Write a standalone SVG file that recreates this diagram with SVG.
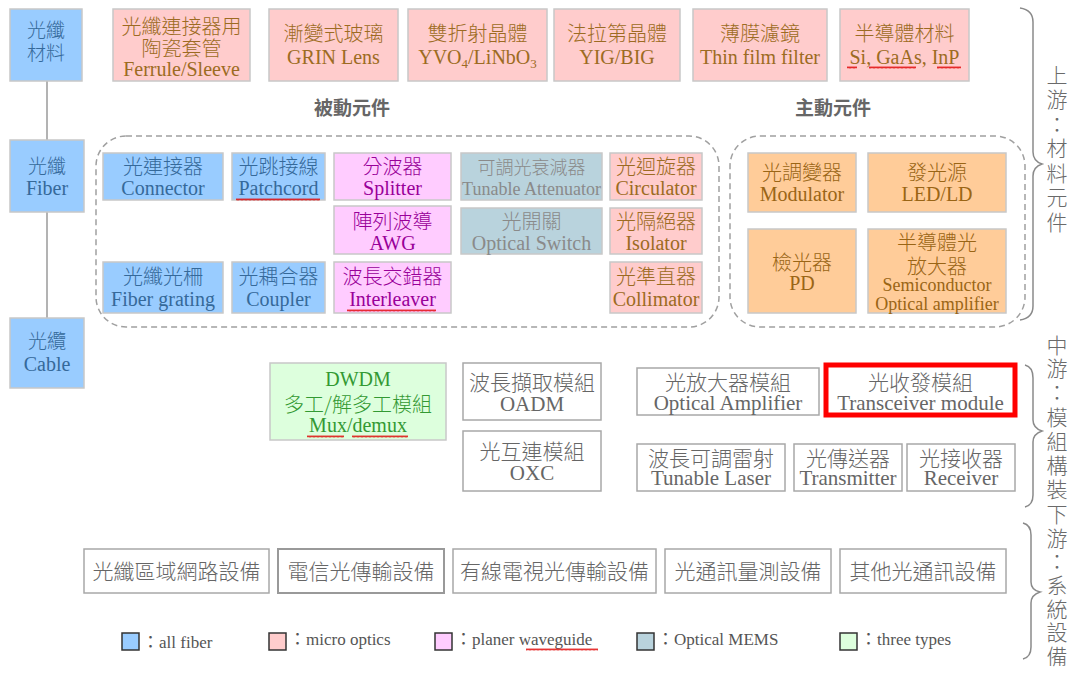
<svg xmlns="http://www.w3.org/2000/svg" width="1075" height="675" viewBox="0 0 1075 675">
<defs>
<pattern id="wv" width="4" height="3" patternUnits="userSpaceOnUse"><path d="M0,2.5 L1,0.5 L2,2.5 L3,0.5 L4,2.5" fill="none" stroke="#e00000" stroke-width="0.8"/></pattern>
</defs>
<style>
text{font-family:"Liberation Serif","Noto Sans CJK TC",serif;font-size:20px;text-anchor:middle}
.n rect{stroke:#c8c8c8;stroke-width:1.5}
.blue rect{fill:#99ccff}.blue text{fill:#35699a}
.pink rect{fill:#ffcccc}.pink text{fill:#9c6b22}
.vio rect{fill:#ffccff}.vio text{fill:#990099}
.mems rect{fill:#b9d3dd}.mems text{fill:#8a8a8a}
.orn rect{fill:#ffcc99}.orn text{fill:#9a6515}
.grn rect{fill:#ddffdd}.grn text{fill:#339933}
.wht rect{fill:#ffffff;stroke:#a8a8a8}.wht text{fill:#666666;font-size:21px}
.zh{font-family:"Noto Sans CJK TC",sans-serif;font-weight:300}
.sec{font-family:"Noto Sans CJK TC",sans-serif;font-weight:bold;font-size:19px;fill:#666666}
.side{font-family:"Noto Sans CJK TC",sans-serif;font-size:21px;fill:#6a6a6a;font-weight:300}
.dash{fill:none;stroke:#a0a0a0;stroke-width:1.5;stroke-dasharray:6 4}
.brace{fill:none;stroke:#8a8a8a;stroke-width:1.5}
.lg rect{stroke:#333333;stroke-width:1.5}
.lg text{fill:#555555;font-size:17px;text-anchor:start}
g rect.sq{fill:url(#wv);stroke:none}
</style>
<rect width="1075" height="675" fill="#ffffff"/>

<g id="connectors">
<line x1="47" y1="81" x2="47" y2="140" stroke="#9a9a9a" stroke-width="1.5"/>
<line x1="47" y1="212" x2="47" y2="318" stroke="#9a9a9a" stroke-width="1.5"/>
</g>

<g id="regions">
<rect class="dash" x="96" y="136" width="623" height="191" rx="30"/>
<rect class="dash" x="730" y="136" width="295" height="191" rx="30"/>
<text class="sec" x="352" y="115">被動元件</text>
<text class="sec" x="833" y="115">主動元件</text>
</g>

<g id="braces">
<path class="brace" d="M1020,8 Q1033,10 1033,22 L1033,152 Q1033,161 1042,164 Q1033,167 1033,176 L1033,306 Q1033,318 1020,320"/>
<path class="brace" d="M1025,365 Q1033,367 1033,378 L1033,420 Q1033,428 1042,431 Q1033,434 1033,442 L1033,495 Q1033,505 1025,507"/>
<path class="brace" d="M1023,523 Q1031,525 1031,535 L1031,582 Q1031,590 1040,592 Q1031,595 1031,603 L1031,647 Q1031,657 1023,659"/>
<text class="side"><tspan x="1057" y="83">上</tspan><tspan x="1057" y="107">游</tspan><tspan x="1057" y="132">：</tspan><tspan x="1057" y="156">材</tspan><tspan x="1057" y="181">料</tspan><tspan x="1057" y="205">元</tspan><tspan x="1057" y="230">件</tspan></text>
<text class="side"><tspan x="1057" y="353">中</tspan><tspan x="1057" y="376">游</tspan><tspan x="1057" y="400">：</tspan><tspan x="1057" y="425">模</tspan><tspan x="1057" y="449">組</tspan><tspan x="1057" y="473">構</tspan><tspan x="1057" y="497">裝</tspan></text>
<text class="side"><tspan x="1057" y="522">下</tspan><tspan x="1057" y="546">游</tspan><tspan x="1057" y="569">：</tspan><tspan x="1057" y="593">系</tspan><tspan x="1057" y="617">統</tspan><tspan x="1057" y="640">設</tspan><tspan x="1057" y="664">備</tspan></text>
</g>

<!-- left column -->
<g id="fiber-material" class="n blue"><rect x="10" y="9" width="72" height="72"/><text class="zh" x="46" y="37" style="font-size:19px">光纖</text><text class="zh" x="46" y="60" style="font-size:19px">材料</text></g>
<g id="fiber" class="n blue"><rect x="10" y="140" width="74" height="72"/><text class="zh" x="47" y="173" style="font-size:19px">光纖</text><text x="47" y="195">Fiber</text></g>
<g id="cable" class="n blue"><rect x="10" y="318" width="74" height="70"/><text class="zh" x="47" y="348" style="font-size:19px">光纜</text><text x="47" y="371">Cable</text></g>

<!-- top row materials -->
<g id="ferrule" class="n pink"><rect x="113" y="9" width="137" height="72"/><text class="zh" x="181.5" y="34">光纖連接器用</text><text class="zh" x="181.5" y="56">陶瓷套管</text><text x="181.5" y="76">Ferrule/Sleeve</text></g>
<g id="grin" class="n pink"><rect x="269" y="9" width="129" height="72"/><text class="zh" x="333.5" y="41">漸變式玻璃</text><text x="333.5" y="64">GRIN Lens</text></g>
<g id="birefringent" class="n pink"><rect x="408" y="9" width="139" height="72"/><text class="zh" x="477.5" y="41">雙折射晶體</text><text x="477.5" y="64">YVO<tspan dy="4" style="font-size:13px">4</tspan><tspan dy="-4">/LiNbO</tspan><tspan dy="4" style="font-size:13px">3</tspan></text></g>
<g id="faraday" class="n pink"><rect x="554" y="9" width="126" height="72"/><text class="zh" x="617" y="41">法拉第晶體</text><text x="617" y="64">YIG/BIG</text></g>
<g id="thinfilm" class="n pink"><rect x="693" y="9" width="134" height="72"/><text class="zh" x="760" y="41">薄膜濾鏡</text><text x="760" y="64">Thin film filter</text></g>
<g id="semimat" class="n pink"><rect x="840" y="9" width="129" height="72"/><text class="zh" x="904.5" y="41">半導體材料</text><text x="904.5" y="64">Si, GaAs, InP</text><rect class="sq" x="847" y="66" width="10" height="3"/><rect class="sq" x="869" y="66" width="47" height="3"/><rect class="sq" x="937" y="66" width="24" height="3"/></g>

<!-- passive -->
<g id="connector" class="n blue"><rect x="103" y="153" width="120" height="47"/><text class="zh" x="163" y="174">光連接器</text><text x="163" y="195">Connector</text></g>
<g id="patchcord" class="n blue"><rect x="232" y="153" width="93" height="47"/><text class="zh" x="278.5" y="174">光跳接線</text><text x="278.5" y="195">Patchcord</text><rect class="sq" x="236" y="198" width="84" height="3"/></g>
<g id="splitter" class="n vio"><rect x="334" y="153" width="117" height="47"/><text class="zh" x="392.5" y="174">分波器</text><text x="392.5" y="195">Splitter</text></g>
<g id="attenuator" class="n mems"><rect x="461" y="153" width="141" height="47"/><text class="zh" x="531.5" y="174" style="font-size:18px">可調光衰減器</text><text x="531.5" y="195" style="font-size:18px">Tunable Attenuator</text></g>
<g id="circulator" class="n pink"><rect x="610" y="153" width="92" height="47"/><text class="zh" x="656" y="174">光迴旋器</text><text x="656" y="195">Circulator</text></g>
<g id="awg" class="n vio"><rect x="334" y="206" width="117" height="48"/><text class="zh" x="392.5" y="229">陣列波導</text><text x="392.5" y="250">AWG</text></g>
<g id="switch" class="n mems"><rect x="461" y="208" width="141" height="46"/><text class="zh" x="531.5" y="229">光開關</text><text x="531.5" y="250">Optical Switch</text></g>
<g id="isolator" class="n pink"><rect x="610" y="208" width="92" height="46"/><text class="zh" x="656" y="229">光隔絕器</text><text x="656" y="250">Isolator</text></g>
<g id="grating" class="n blue"><rect x="103" y="262" width="120" height="51"/><text class="zh" x="163" y="284">光纖光柵</text><text x="163" y="306">Fiber grating</text></g>
<g id="coupler" class="n blue"><rect x="232" y="262" width="93" height="51"/><text class="zh" x="278.5" y="284">光耦合器</text><text x="278.5" y="306">Coupler</text></g>
<g id="interleaver" class="n vio"><rect x="334" y="262" width="117" height="51"/><text class="zh" x="392.5" y="284">波長交錯器</text><text x="392.5" y="306">Interleaver</text><rect class="sq" x="347" y="309" width="89" height="3"/></g>
<g id="collimator" class="n pink"><rect x="610" y="262" width="92" height="51"/><text class="zh" x="656" y="284">光準直器</text><text x="656" y="306">Collimator</text></g>

<!-- active -->
<g id="modulator" class="n orn"><rect x="748" y="153" width="108" height="59"/><text class="zh" x="802" y="180">光調變器</text><text x="802" y="201">Modulator</text></g>
<g id="ledld" class="n orn"><rect x="868" y="153" width="138" height="59"/><text class="zh" x="937" y="180">發光源</text><text x="937" y="201">LED/LD</text></g>
<g id="pd" class="n orn"><rect x="748" y="229" width="108" height="84"/><text class="zh" x="802" y="270">檢光器</text><text x="802" y="290">PD</text></g>
<g id="soa" class="n orn"><rect x="868" y="229" width="138" height="84"/><text class="zh" x="937" y="250">半導體光</text><text class="zh" x="937" y="274">放大器</text><text x="937" y="291" style="font-size:18px">Semiconductor</text><text x="937" y="310" style="font-size:18px">Optical amplifier</text></g>

<!-- midstream modules -->
<g id="dwdm" class="n grn"><rect x="270" y="363" width="176" height="77"/><text x="358" y="386">DWDM</text><text class="zh" x="358" y="412">多工/解多工模組</text><text x="358" y="432">Mux/demux</text><rect class="sq" x="307" y="435" width="37" height="3"/><rect class="sq" x="352" y="435" width="56" height="3"/></g>
<g id="oadm" class="n wht"><rect x="463" y="363" width="138" height="57"/><text class="zh" x="532" y="390">波長擷取模組</text><text x="532" y="411">OADM</text></g>
<g id="oxc" class="n wht"><rect x="463" y="431" width="138" height="60"/><text class="zh" x="532" y="459">光互連模組</text><text x="532" y="480">OXC</text></g>
<g id="optamp" class="n wht"><rect x="637" y="368" width="182" height="47"/><text class="zh" x="728" y="390">光放大器模組</text><text x="728" y="410">Optical Amplifier</text></g>
<g id="transceiver" class="n wht"><rect x="826" y="365" width="189" height="50" style="stroke:#ff0000;stroke-width:5"/><text class="zh" x="920.5" y="390">光收發模組</text><text x="920.5" y="410">Transceiver module</text></g>
<g id="tunablelaser" class="n wht"><rect x="637" y="444" width="148" height="47"/><text class="zh" x="711" y="466">波長可調雷射</text><text x="711" y="485">Tunable Laser</text></g>
<g id="transmitter" class="n wht"><rect x="794" y="444" width="108" height="47"/><text class="zh" x="848" y="466">光傳送器</text><text x="848" y="485">Transmitter</text></g>
<g id="receiver" class="n wht"><rect x="907" y="444" width="108" height="47"/><text class="zh" x="961" y="466">光接收器</text><text x="961" y="485">Receiver</text></g>

<!-- downstream systems -->
<g id="lan" class="n wht"><rect x="84" y="549" width="185" height="44"/><text class="zh" x="176.5" y="579">光纖區域網路設備</text></g>
<g id="telecom" class="n wht"><rect x="278" y="549" width="166" height="44" style="stroke:#999999;stroke-width:2"/><text class="zh" x="361" y="579">電信光傳輸設備</text></g>
<g id="catv" class="n wht"><rect x="453" y="549" width="203" height="44"/><text class="zh" x="554.5" y="579">有線電視光傳輸設備</text></g>
<g id="measure" class="n wht"><rect x="665" y="549" width="166" height="44"/><text class="zh" x="748" y="579">光通訊量測設備</text></g>
<g id="other" class="n wht"><rect x="840" y="549" width="166" height="44"/><text class="zh" x="923" y="579">其他光通訊設備</text></g>

<!-- legend -->
<g id="legend" class="lg">
<rect x="122" y="633" width="17" height="17" fill="#99ccff"/><text x="142" y="648">：all fiber</text>
<rect x="269" y="633" width="17" height="17" fill="#ffcccc"/><text x="289" y="645">：micro optics</text>
<rect x="435" y="633" width="17" height="17" fill="#ffccff"/><text x="455" y="645">：planer waveguide</text>
<rect class="sq" x="526" y="648" width="72" height="3"/>
<rect x="637" y="633" width="17" height="17" fill="#b9d3dd"/><text x="657" y="645">：Optical MEMS</text>
<rect x="840" y="633" width="17" height="17" fill="#ddffdd"/><text x="860" y="645">：three types</text>
</g>
</svg>
